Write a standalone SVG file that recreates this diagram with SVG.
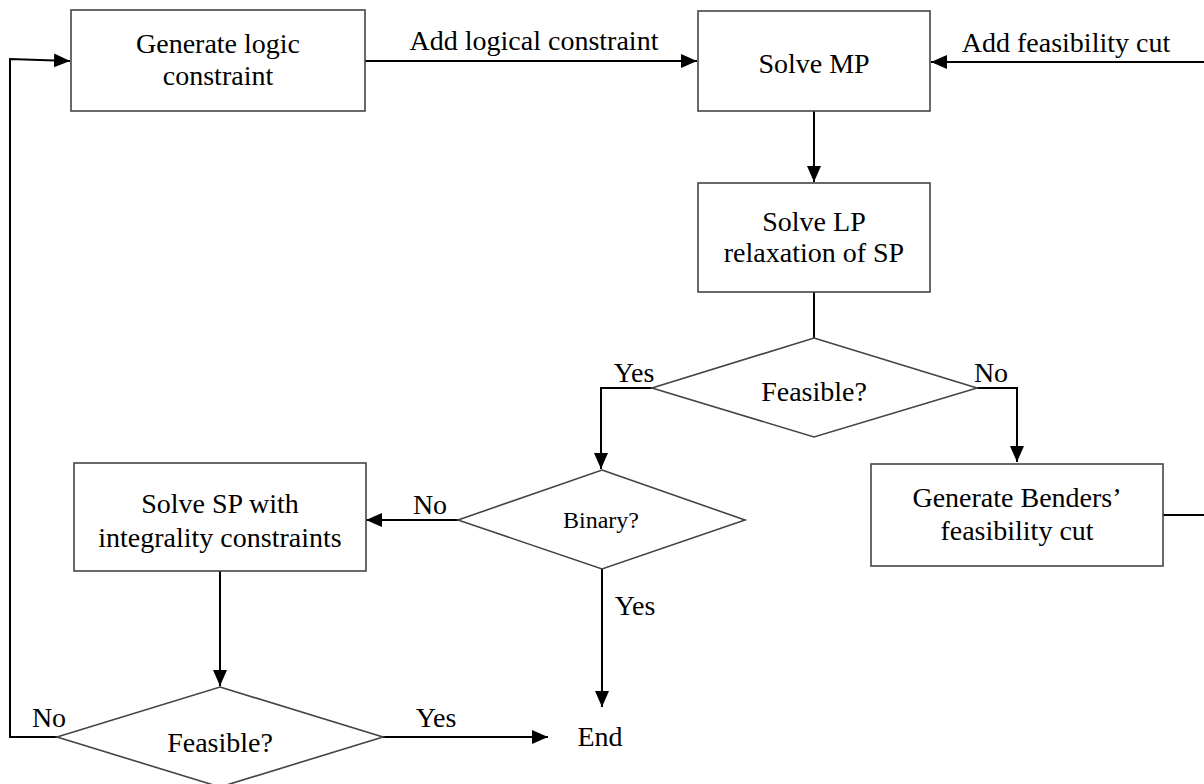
<svg xmlns="http://www.w3.org/2000/svg" width="1204" height="784" viewBox="0 0 1204 784">
<defs>
<style>
.box{fill:#fff;stroke:#444;stroke-width:1.6}
.t{font-family:"Liberation Serif","Times New Roman",serif;font-size:28px;fill:#000;text-anchor:middle}
.s{font-size:24px}
.c{fill:none;stroke:#000;stroke-width:2}
</style>
<marker id="ah" viewBox="0 0 16 14" refX="16" refY="7" markerWidth="16" markerHeight="14" markerUnits="userSpaceOnUse" orient="auto">
<path d="M0,0 L16,7 L0,14 Z" fill="#000"/>
</marker>
</defs>
<rect width="1204" height="784" fill="#fff"/>
<g id="connectors">
<path class="c" d="M365,61 H697" marker-end="url(#ah)"/>
<path class="c" d="M1204,62 H931" marker-end="url(#ah)"/>
<path class="c" d="M814,111 V182" marker-end="url(#ah)"/>
<path class="c" d="M814,292 V338"/>
<path class="c" d="M652,388 H601 V469" marker-end="url(#ah)"/>
<path class="c" d="M977,388 H1017 V462" marker-end="url(#ah)"/>
<path class="c" d="M1163,515 H1204"/>
<path class="c" d="M458,520 H366" marker-end="url(#ah)"/>
<path class="c" d="M602,569 V707" marker-end="url(#ah)"/>
<path class="c" d="M220,571 V686" marker-end="url(#ah)"/>
<path class="c" d="M383,737 H548" marker-end="url(#ah)"/>
<path class="c" d="M57,737 H10 V59 L70,61" marker-end="url(#ah)"/>
<text class="t" x="534" y="50">Add logical constraint</text>
<text class="t" x="1066" y="52">Add feasibility cut</text>
<text class="t" x="634" y="382">Yes</text>
<text class="t" x="991" y="382">No</text>
<text class="t" x="430" y="514">No</text>
<text class="t" x="635" y="615">Yes</text>
<text class="t" x="49" y="727">No</text>
<text class="t" x="436" y="727">Yes</text>
</g>
<g id="gen-logic">
<rect class="box" x="71" y="10" width="294" height="101"/>
<text class="t" x="218" y="53">Generate logic</text>
<text class="t" x="218" y="85">constraint</text>
</g>
<g id="solve-mp">
<rect class="box" x="698" y="11" width="232" height="100"/>
<text class="t" x="814" y="73">Solve MP</text>
</g>
<g id="solve-lp">
<rect class="box" x="698" y="183" width="232" height="109"/>
<text class="t" x="814" y="231">Solve LP</text>
<text class="t" x="814" y="262">relaxation of SP</text>
</g>
<g id="feasible1">
<polygon class="box" points="814,338 977,388 814,437 652,388"/>
<text class="t" x="814" y="401">Feasible?</text>
</g>
<g id="benders">
<rect class="box" x="871" y="464" width="292" height="102"/>
<text class="t" x="1017" y="507">Generate Benders’</text>
<text class="t" x="1017" y="540">feasibility cut</text>
</g>
<g id="binary">
<polygon class="box" points="602,470 745,520 602,569 458,520"/>
<text class="t s" x="601" y="528">Binary?</text>
</g>
<g id="solve-sp">
<rect class="box" x="74" y="463" width="292" height="108"/>
<text class="t" x="220" y="513">Solve SP with</text>
<text class="t" x="220" y="547">integrality constraints</text>
</g>
<g id="feasible2">
<polygon class="box" points="220,687 383,737 220,787 57,737"/>
<text class="t" x="220" y="752">Feasible?</text>
</g>
<g id="end">
<text class="t" x="600" y="746">End</text>
</g>
</svg>
